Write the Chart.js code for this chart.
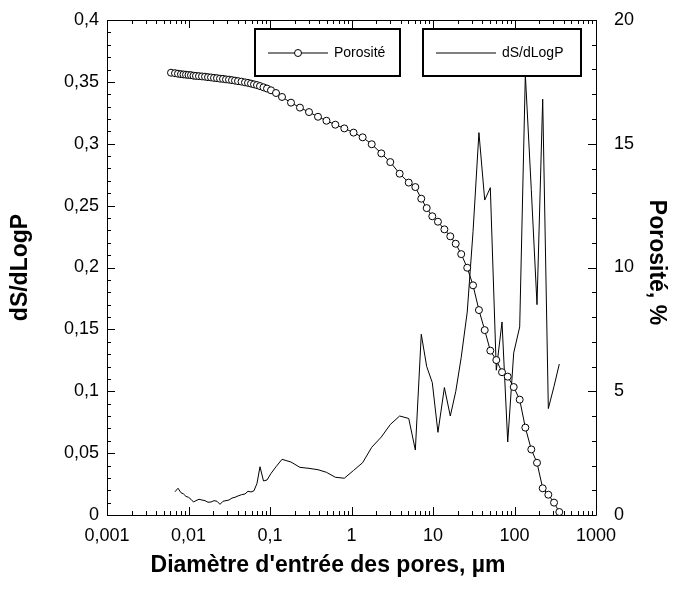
<!DOCTYPE html>
<html>
<head>
<meta charset="utf-8">
<script src="https://cdn.jsdelivr.net/npm/chart.js@4.4.1/dist/chart.umd.min.js"></script>
<style>
  html, body { margin: 0; padding: 0; background: #fff; }
</style>
</head>
<body>
<canvas id="chart" width="674" height="594"></canvas>
<script>
// pore entry diameter, µm
const diameters = [
  0.0061, 0.00683, 0.00743, 0.00809, 0.00868, 0.00932, 0.0100, 0.01073, 0.01152, 0.01236,
  0.01345, 0.01464, 0.01594, 0.01735, 0.01888, 0.02056, 0.02237, 0.02435, 0.02651, 0.02885,
  0.0314, 0.03418, 0.03721, 0.0405, 0.0447, 0.04935, 0.05373, 0.05848, 0.06365, 0.06928,
  0.07541, 0.08325, 0.09188, 0.1029, 0.1185, 0.1404,
  0.181, 0.233, 0.301, 0.388, 0.493, 0.633, 0.816, 1.06, 1.37, 1.77,
  2.32, 2.99, 3.90, 5.04, 6.07, 7.18, 8.37, 9.80, 11.5, 13.8,
  16.3, 19.0, 22.2, 26.3, 31.0, 36.6, 43.1, 50.5, 59.8, 70.3,
  82.6, 97.8, 115.8, 135.8, 160.7, 188.9, 221.8, 260.1, 305.4, 354.6
];
// cumulative porosity, %
const porosity = [
  17.87, 17.85, 17.83, 17.81, 17.80, 17.79, 17.78, 17.77, 17.75, 17.74,
  17.73, 17.72, 17.71, 17.69, 17.68, 17.66, 17.65, 17.63, 17.62, 17.60,
  17.59, 17.57, 17.55, 17.53, 17.51, 17.48, 17.46, 17.43, 17.40, 17.37,
  17.33, 17.28, 17.23, 17.16, 17.05, 16.89,
  16.66, 16.46, 16.28, 16.09, 15.93, 15.77, 15.62, 15.45, 15.26, 14.98,
  14.61, 14.26, 13.79, 13.43, 13.25, 12.78, 12.40, 12.07, 11.85, 11.54,
  11.26, 10.96, 10.54, 9.99, 9.28, 8.28, 7.47, 6.64, 6.26, 5.77,
  5.59, 5.17, 4.66, 3.53, 2.65, 2.11, 1.08, 0.82, 0.50, 0.12
];
// dS/dLogP
const dSdLogP = [
  null, 0.0188, 0.0216, 0.0180, 0.0170, 0.0150, 0.0143, 0.0127, 0.0105, 0.0116,
  0.0127, 0.0121, 0.0116, 0.0103, 0.0105, 0.0116, 0.0111, 0.0086, 0.0111, 0.0116,
  0.0121, 0.0137, 0.0143, 0.0154, 0.0164, 0.0170, 0.0192, 0.0186, 0.0196, 0.0256,
  0.0390, 0.0275, 0.0283, 0.0336, 0.0390, 0.0450,
  0.0428, 0.0385, 0.0377, 0.0366, 0.0345, 0.0305, 0.0297, 0.0360, 0.0423, 0.0547,
  0.0630, 0.0731, 0.0800, 0.0780, 0.0525, 0.1460, 0.1200, 0.1070, 0.0668, 0.1030,
  0.0800, 0.0996, 0.1274, 0.1640, 0.2290, 0.3090, 0.2545, 0.2645, 0.1170, 0.1560,
  0.0590, 0.1310, 0.1520, 0.3560, 0.2630, 0.1700, 0.3360, 0.0860, 0.1040, 0.1220
];

const xTicks = [0.001, 0.01, 0.1, 1, 10, 100, 1000];
const leftTicks = [0, 0.05, 0.1, 0.15, 0.2, 0.25, 0.3, 0.35, 0.4];
const rightTicks = [0, 5, 10, 15, 20];

const xTitle = "Diamètre d'entrée des pores, µm";
const yTitle = 'dS/dLogP';
const y2Title = 'Porosité, %';

const FONT = '"Liberation Sans", Arial, sans-serif';
const comma = v => String(parseFloat(Number(v).toFixed(3))).replace('.', ',');

// inward tick marks + frame
const frameTicks = {
  id: 'frameTicks',
  afterDatasetsDraw(chart) {
    const { ctx, chartArea: a, scales } = chart;
    ctx.save();
    ctx.strokeStyle = '#000';
    ctx.lineWidth = 1;
    ctx.beginPath();
    ctx.rect(a.left + 0.5, a.top + 0.5, a.right - a.left, a.bottom - a.top);
    for (let e = -3; e <= 3; e++) {
      for (let m = 1; m <= 9; m++) {
        const v = m * Math.pow(10, e);
        if (v > 1000.001) break;
        const px = Math.round(scales.x.getPixelForValue(v)) + 0.5;
        const len = m === 1 ? 8 : 4;
        ctx.moveTo(px, a.bottom); ctx.lineTo(px, a.bottom - len);
        ctx.moveTo(px, a.top); ctx.lineTo(px, a.top + len);
      }
    }
    for (let i = 0; i <= 40; i++) {
      const py = Math.round(scales.y.getPixelForValue(i * 0.01)) + 0.5;
      const len = i % 5 === 0 ? 8 : 4;
      ctx.moveTo(a.left, py); ctx.lineTo(a.left + len, py);
    }
    for (let i = 0; i <= 20; i++) {
      const py = Math.round(scales.y2.getPixelForValue(i)) + 0.5;
      const len = i % 5 === 0 ? 8 : 4;
      ctx.moveTo(a.right, py); ctx.lineTo(a.right - len, py);
    }
    ctx.stroke();
    ctx.restore();
  }
};

// boxed legend entries + axis titles
const boxLegend = {
  id: 'boxLegend',
  afterDraw(chart) {
    const { ctx, chartArea: a } = chart;
    const boxes = [
      { ds: 0, x: 255, w: 145 },
      { ds: 1, x: 423, w: 158 }
    ];
    ctx.save();
    boxes.forEach(b => {
      const ds = chart.data.datasets[b.ds];
      const top = 29, h = 47, cy = top + h / 2;
      ctx.lineWidth = 2;
      ctx.strokeStyle = '#000';
      ctx.fillStyle = '#fff';
      ctx.fillRect(b.x, top, b.w, h);
      ctx.strokeRect(b.x, top, b.w, h);
      ctx.lineWidth = 1;
      ctx.beginPath();
      ctx.moveTo(b.x + 13, cy + 0.5);
      ctx.lineTo(b.x + 73, cy + 0.5);
      ctx.stroke();
      if (ds.pointRadius > 0) {
        ctx.beginPath();
        ctx.arc(b.x + 43, cy + 0.5, ds.pointRadius, 0, Math.PI * 2);
        ctx.fillStyle = ds.pointBackgroundColor;
        ctx.fill();
        ctx.stroke();
      }
      ctx.fillStyle = '#000';
      ctx.font = '14px ' + FONT;
      ctx.textBaseline = 'middle';
      ctx.textAlign = 'left';
      ctx.fillText(ds.label, b.x + 79, cy + 1);
    });

    ctx.fillStyle = '#000';
    ctx.font = 'bold 23px ' + FONT;
    ctx.textAlign = 'center';
    ctx.textBaseline = 'middle';
    ctx.fillText(xTitle, 328, 566);

    const midY = (a.top + a.bottom) / 2;
    ctx.save();
    ctx.translate(21, midY);
    ctx.rotate(-Math.PI / 2);
    ctx.fillText(yTitle, 0, 0);
    ctx.restore();

    ctx.save();
    ctx.translate(656, midY - 5);
    ctx.rotate(Math.PI / 2);
    ctx.fillText(y2Title, 0, 0);
    ctx.restore();
    ctx.restore();
  }
};

const fixVertical = w => s => { s.width = w; s.paddingTop = 0; s.paddingBottom = 0; };

new Chart(document.getElementById('chart').getContext('2d'), {
  type: 'line',
  data: {
    datasets: [
      {
        label: 'Porosité',
        data: diameters.map((d, i) => ({ x: d, y: porosity[i] })),
        yAxisID: 'y2',
        borderColor: '#000',
        borderWidth: 1,
        pointRadius: 3.5,
        pointBorderWidth: 1,
        pointBackgroundColor: '#fff',
        pointBorderColor: '#000',
        tension: 0,
        clip: false
      },
      {
        label: 'dS/dLogP',
        data: diameters.map((d, i) => ({ x: d, y: dSdLogP[i] })),
        yAxisID: 'y',
        borderColor: '#000',
        borderWidth: 1,
        pointRadius: 0,
        tension: 0,
        spanGaps: false
      }
    ]
  },
  options: {
    responsive: false,
    animation: false,
    devicePixelRatio: 1,
    layout: { padding: { top: 20, left: 0, right: 0, bottom: 0 } },
    plugins: { legend: { display: false }, tooltip: { enabled: false } },
    scales: {
      x: {
        type: 'logarithmic',
        min: 0.001,
        max: 1000,
        grid: { display: false, drawTicks: false },
        border: { display: false },
        afterBuildTicks: s => { s.ticks = xTicks.map(v => ({ value: v })); },
        afterFit: s => { s.height = 79; s.paddingLeft = 0; s.paddingRight = 0; },
        ticks: {
          color: '#000',
          padding: 10,
          autoSkip: false,
          maxRotation: 0,
          font: { family: FONT, size: 18 },
          callback: v => comma(v)
        }
      },
      y: {
        position: 'left',
        min: 0,
        max: 0.4,
        grid: { display: false, drawTicks: false },
        border: { display: false },
        afterBuildTicks: s => { s.ticks = leftTicks.map(v => ({ value: v })); },
        afterFit: fixVertical(107),
        ticks: {
          color: '#000',
          padding: 8,
          font: { family: FONT, size: 18 },
          callback: v => comma(v)
        }
      },
      y2: {
        position: 'right',
        min: 0,
        max: 20,
        grid: { display: false, drawTicks: false },
        border: { display: false },
        afterBuildTicks: s => { s.ticks = rightTicks.map(v => ({ value: v })); },
        afterFit: fixVertical(78),
        ticks: {
          color: '#000',
          padding: 18,
          font: { family: FONT, size: 18 },
          callback: v => comma(v)
        }
      }
    }
  },
  plugins: [frameTicks, boxLegend]
});
</script>
</body>
</html>
